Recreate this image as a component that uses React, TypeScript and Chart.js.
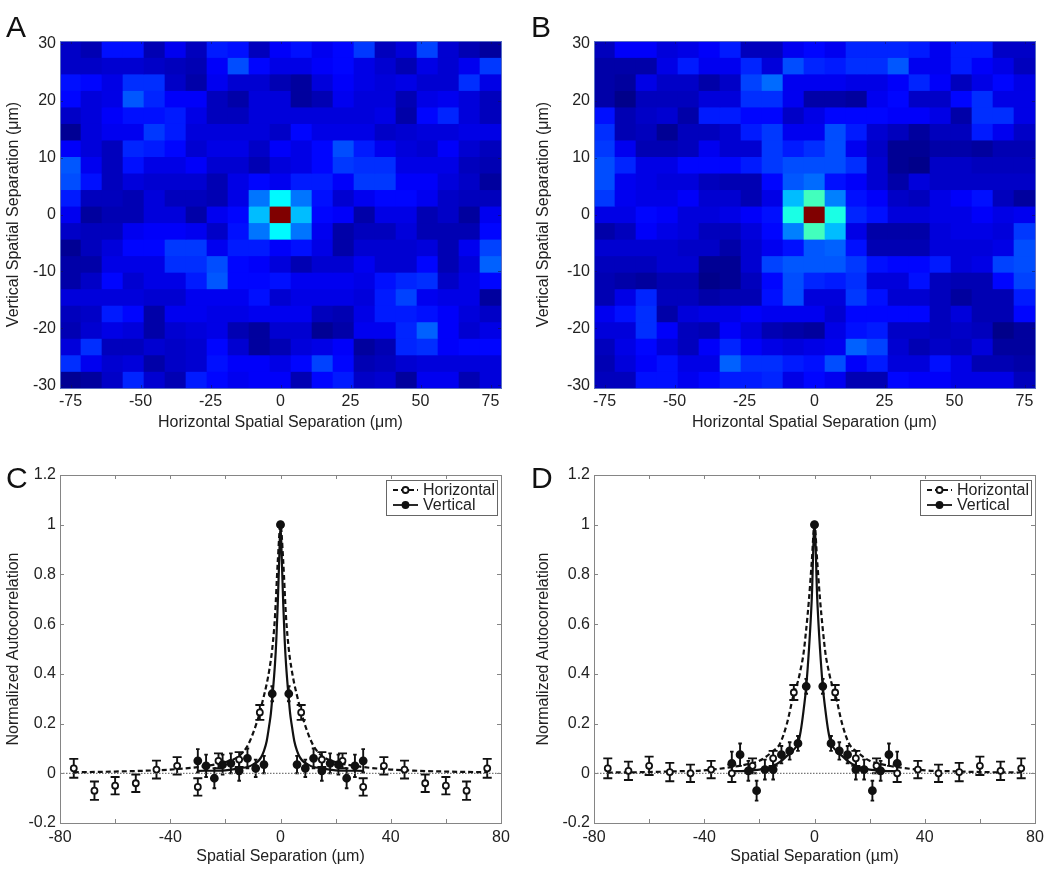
import React, { useEffect, useRef } from "react";
import { Chart, registerables } from "chart.js";

Chart.register(...registerables);

const FONT = "'Liberation Sans', Arial, sans-serif";
const TEXT = "#222222";

// ---------- heat maps (values on a 0..1 jet scale, in hundredths) ----------
const heatColumns = [-75, -67.5, -60, -52.5, -45, -37.5, -30, -22.5, -15, -7.5, 0, 7.5, 15, 22.5, 30, 37.5, 45, 52.5, 60, 67.5, 75];
const heatRows = [30, 27, 24, 21, 18, 15, 12, 9, 6, 3, 0, -3, -6, -9, -12, -15, -18, -21, -24, -27, -30];
const heatTicksX = [-75, -50, -25, 0, 25, 50, 75];
const heatTicksY = [-30, -20, -10, 0, 10, 20, 30];

const heatA = [
  [7, 5, 14, 14, 5, 11, 6, 15, 14, 6, 12, 14, 11, 13, 18, 6, 9, 19, 8, 5, 3],
  [7, 7, 8, 8, 7, 6, 5, 12, 20, 13, 10, 10, 12, 13, 10, 8, 5, 10, 8, 11, 18],
  [14, 13, 10, 17, 17, 7, 4, 11, 8, 8, 5, 3, 9, 12, 10, 9, 10, 8, 8, 17, 10],
  [13, 9, 10, 21, 16, 12, 12, 6, 4, 9, 9, 3, 5, 11, 9, 9, 5, 10, 11, 9, 6],
  [7, 9, 12, 14, 14, 15, 10, 6, 6, 9, 9, 9, 9, 9, 9, 10, 4, 13, 16, 9, 6],
  [2, 9, 11, 11, 18, 15, 9, 9, 9, 9, 7, 13, 10, 10, 10, 7, 8, 9, 9, 10, 10],
  [12, 9, 6, 16, 15, 13, 8, 10, 10, 7, 12, 10, 13, 20, 15, 11, 9, 8, 12, 8, 6],
  [21, 11, 6, 14, 10, 10, 12, 8, 8, 5, 9, 10, 13, 18, 17, 17, 10, 10, 10, 6, 5],
  [20, 14, 6, 9, 8, 8, 8, 5, 10, 13, 11, 15, 15, 12, 18, 18, 12, 12, 9, 7, 3],
  [15, 6, 6, 5, 9, 6, 6, 5, 10, 24, 37, 24, 14, 8, 11, 13, 13, 11, 7, 6, 6],
  [11, 3, 5, 5, 9, 9, 4, 11, 13, 31, 100, 31, 13, 12, 4, 10, 10, 5, 7, 3, 11],
  [7, 6, 6, 11, 12, 12, 11, 7, 14, 24, 37, 24, 11, 4, 6, 6, 9, 5, 5, 5, 13],
  [2, 6, 9, 13, 13, 18, 18, 11, 15, 15, 12, 14, 10, 4, 8, 8, 8, 9, 5, 11, 19],
  [4, 4, 10, 10, 10, 17, 17, 20, 13, 12, 9, 5, 8, 8, 11, 8, 8, 13, 5, 9, 22],
  [4, 7, 13, 8, 10, 10, 15, 21, 13, 13, 14, 11, 11, 11, 10, 14, 16, 17, 7, 10, 13],
  [9, 9, 9, 9, 8, 8, 11, 11, 11, 14, 8, 10, 10, 10, 9, 15, 19, 11, 10, 10, 3],
  [6, 7, 15, 13, 4, 11, 11, 10, 10, 11, 11, 11, 6, 5, 10, 15, 15, 14, 12, 9, 7],
  [5, 8, 10, 9, 4, 8, 9, 10, 5, 3, 8, 8, 2, 4, 11, 11, 16, 22, 12, 8, 10],
  [9, 17, 6, 6, 8, 7, 8, 13, 8, 3, 5, 9, 10, 12, 3, 5, 16, 17, 12, 13, 13],
  [17, 11, 8, 9, 4, 7, 8, 14, 12, 12, 10, 13, 19, 13, 5, 6, 8, 9, 9, 9, 9],
  [2, 3, 7, 16, 8, 5, 15, 13, 11, 12, 12, 5, 13, 15, 7, 8, 3, 11, 11, 5, 9],
];

const heatB = [
  [6, 12, 12, 9, 10, 12, 15, 6, 6, 11, 13, 11, 16, 16, 16, 15, 11, 15, 15, 7, 7],
  [4, 4, 4, 10, 15, 11, 11, 16, 9, 20, 16, 15, 17, 17, 21, 11, 11, 15, 12, 10, 6],
  [4, 3, 10, 7, 7, 4, 7, 19, 23, 11, 11, 11, 10, 10, 12, 16, 12, 6, 10, 13, 10],
  [4, 1, 6, 6, 6, 9, 9, 17, 17, 11, 4, 4, 3, 11, 13, 7, 7, 13, 17, 10, 10],
  [14, 5, 7, 8, 4, 15, 15, 13, 13, 7, 10, 13, 13, 13, 12, 12, 10, 4, 17, 17, 10],
  [17, 5, 6, 2, 6, 6, 8, 15, 18, 11, 11, 20, 15, 8, 6, 3, 6, 6, 15, 11, 7],
  [18, 11, 5, 5, 6, 11, 8, 8, 18, 15, 17, 20, 11, 7, 2, 2, 4, 4, 3, 5, 5],
  [20, 16, 10, 10, 13, 13, 13, 15, 18, 20, 20, 20, 17, 8, 2, 1, 7, 7, 6, 6, 6],
  [20, 11, 10, 9, 9, 6, 5, 5, 13, 21, 23, 14, 12, 8, 4, 9, 7, 7, 7, 7, 7],
  [18, 11, 10, 10, 12, 8, 8, 5, 10, 31, 44, 25, 14, 12, 7, 6, 10, 12, 14, 6, 3],
  [10, 10, 13, 12, 9, 9, 10, 12, 14, 40, 100, 40, 16, 14, 9, 9, 10, 10, 12, 10, 11],
  [4, 6, 12, 10, 9, 6, 6, 9, 13, 25, 44, 31, 10, 4, 4, 4, 9, 10, 10, 9, 18],
  [8, 8, 8, 8, 7, 7, 4, 8, 11, 14, 21, 22, 14, 5, 5, 5, 9, 9, 9, 10, 20],
  [6, 6, 6, 8, 8, 2, 2, 8, 19, 21, 21, 21, 18, 14, 13, 13, 15, 9, 10, 19, 20],
  [5, 4, 3, 5, 5, 1, 2, 6, 13, 20, 16, 15, 17, 9, 9, 14, 6, 5, 5, 13, 19],
  [5, 10, 16, 6, 6, 4, 5, 5, 14, 20, 9, 9, 18, 14, 8, 8, 6, 3, 5, 5, 15],
  [11, 14, 17, 4, 9, 10, 10, 12, 11, 11, 11, 8, 13, 13, 13, 13, 6, 9, 5, 5, 13],
  [9, 9, 17, 12, 6, 5, 12, 9, 5, 4, 3, 10, 14, 15, 7, 7, 6, 7, 6, 1, 3],
  [6, 10, 13, 9, 6, 12, 16, 12, 10, 9, 10, 11, 22, 19, 8, 5, 7, 6, 9, 3, 3],
  [5, 9, 12, 14, 10, 10, 22, 17, 17, 15, 14, 20, 12, 15, 9, 9, 14, 10, 5, 5, 4],
  [6, 6, 14, 14, 11, 13, 15, 15, 16, 10, 13, 11, 5, 5, 13, 12, 12, 10, 10, 10, 6],
];

// ---------- autocorrelation curves (one side; the other side mirrors it) ----------
const lineTicksX = [-80, -60, -40, -20, 0, 20, 40, 60, 80];
const lineLabelsX = [-80, -40, 0, 40, 80];
const lineTicksY = [-0.2, 0, 0.2, 0.4, 0.6, 0.8, 1, 1.2];

const horizontalX = [0, 7.5, 15, 22.5, 30, 37.5, 45, 52.5, 60, 67.5, 75];
const verticalX = [0, 3, 6, 9, 12, 15, 18, 21, 24, 27, 30];

const cHorizontal = [1, 0.245, 0.055, 0.05, -0.055, 0.03, 0.015, -0.04, -0.05, -0.07, 0.02];
const cHorizontalErr = [0, 0.03, 0.03, 0.03, 0.035, 0.035, 0.036, 0.035, 0.035, 0.037, 0.038];
const cVertical = [1, 0.32, 0.035, 0.02, 0.06, 0.01, 0.04, 0.035, -0.02, 0.03, 0.05];
const cVerticalErr = [0, 0.03, 0.035, 0.035, 0.04, 0.04, 0.04, 0.04, 0.04, 0.045, 0.047];

const dHorizontal = [1, 0.325, 0.06, 0.03, 0, 0.015, 0, 0.005, 0.03, 0.01, 0.02];
const dHorizontalErr = [0, 0.03, 0.03, 0.03, 0.035, 0.035, 0.035, 0.037, 0.037, 0.037, 0.04];
const dVertical = [1, 0.35, 0.12, 0.09, 0.075, 0.015, 0.015, -0.07, 0.01, 0.075, 0.04];
const dVerticalErr = [0, 0.03, 0.03, 0.035, 0.035, 0.04, 0.04, 0.04, 0.04, 0.045, 0.047];

const cFitHX = [0, 1, 2, 3, 4, 5, 6.5, 7.5, 10, 12, 15, 20, 25, 30, 40, 50, 60, 75];
const cFitHY = [1, 0.85, 0.63, 0.5, 0.42, 0.36, 0.29, 0.245, 0.16, 0.11, 0.07, 0.045, 0.033, 0.025, 0.015, 0.01, 0.007, 0.004];
const cFitVX = [0, 0.5, 1, 1.5, 2, 3, 3.5, 4, 5, 6, 7, 8, 10, 12, 15, 20, 30];
const cFitVY = [1, 0.85, 0.68, 0.54, 0.44, 0.3, 0.24, 0.2, 0.13, 0.09, 0.065, 0.05, 0.035, 0.025, 0.02, 0.012, 0.01];

const dFitHX = [0, 1, 2, 3, 4, 5, 6, 7.5, 10, 12.5, 15, 20, 25, 30, 40, 50, 60, 75];
const dFitHY = [1, 0.85, 0.7, 0.58, 0.48, 0.42, 0.37, 0.32, 0.2, 0.12, 0.09, 0.05, 0.035, 0.025, 0.012, 0.008, 0.005, 0.003];
const dFitVX = [0, 1, 2, 3, 4, 5, 6, 8, 10, 12, 15, 20, 25, 30];
const dFitVY = [1, 0.7, 0.5, 0.35, 0.25, 0.17, 0.12, 0.09, 0.07, 0.05, 0.03, 0.015, 0.01, 0.008];

const legendNames = ["Horizontal", "Vertical"];

// ---------- helpers ----------
const clamp = (v: number) => Math.max(0, Math.min(1, v));
function jet(v: number) {
  const r = clamp(1.5 - Math.abs(4 * v - 3));
  const g = clamp(1.5 - Math.abs(4 * v - 2));
  const b = clamp(1.5 - Math.abs(4 * v - 1));
  return `rgb(${Math.round(r * 255)},${Math.round(g * 255)},${Math.round(b * 255)})`;
}

function mirror(xs: number[], ys: number[]) {
  const pts: { x: number; y: number }[] = [];
  for (let i = xs.length - 1; i > 0; i--) pts.push({ x: -xs[i], y: ys[i] });
  xs.forEach((x, i) => pts.push({ x, y: ys[i] }));
  return pts;
}
function mirrorErr(errs: number[]) {
  return [...errs.slice(1).reverse(), ...errs];
}

function frameTicks(color: string, tickColor: string, len: number) {
  return {
    id: "frameTicks",
    afterDatasetsDraw(chart: any) {
      const { ctx, chartArea: a, scales } = chart;
      ctx.save();
      ctx.strokeStyle = tickColor;
      ctx.lineWidth = 1;
      ctx.beginPath();
      scales.x.ticks.forEach((t: any) => {
        const x = Math.round(scales.x.getPixelForValue(t.value)) + 0.5;
        ctx.moveTo(x, a.bottom);
        ctx.lineTo(x, a.bottom - len);
        ctx.moveTo(x, a.top);
        ctx.lineTo(x, a.top + len);
      });
      scales.y.ticks.forEach((t: any) => {
        const y = Math.round(scales.y.getPixelForValue(t.value)) + 0.5;
        ctx.moveTo(a.left, y);
        ctx.lineTo(a.left + len, y);
        ctx.moveTo(a.right, y);
        ctx.lineTo(a.right - len, y);
      });
      ctx.stroke();
      ctx.strokeStyle = color;
      ctx.strokeRect(Math.round(a.left) + 0.5, Math.round(a.top) + 0.5, Math.round(a.right - a.left), Math.round(a.bottom - a.top));
      ctx.restore();
    },
  };
}

const errorBars = {
  id: "errorBars",
  beforeDatasetsDraw(chart: any) {
    const { ctx, scales } = chart;
    ctx.save();
    ctx.strokeStyle = "#111111";
    ctx.lineWidth = 1.9;
    chart.data.datasets.forEach((ds: any) => {
      if (!ds.errors) return;
      ds.data.forEach((p: any, i: number) => {
        const e = ds.errors[i];
        if (!e) return;
        const x = scales.x.getPixelForValue(p.x);
        const y1 = scales.y.getPixelForValue(p.y + e);
        const y2 = scales.y.getPixelForValue(p.y - e);
        ctx.beginPath();
        ctx.moveTo(x, y1);
        ctx.lineTo(x, y2);
        ctx.moveTo(x - ds.cap, y1);
        ctx.lineTo(x + ds.cap, y1);
        ctx.moveTo(x - ds.cap, y2);
        ctx.lineTo(x + ds.cap, y2);
        ctx.stroke();
      });
    });
    ctx.restore();
  },
};

const insideLegend = {
  id: "insideLegend",
  afterDraw(chart: any) {
    const { ctx, chartArea: a } = chart;
    const left = a.right - 115;
    const top = a.top + 5;
    ctx.save();
    ctx.fillStyle = "#ffffff";
    ctx.strokeStyle = "#666666";
    ctx.lineWidth = 1;
    ctx.fillRect(left, top, 111, 35);
    ctx.strokeRect(left + 0.5, top + 0.5, 111, 35);
    legendNames.forEach((name, i) => {
      const y = top + 10 + i * 15;
      ctx.strokeStyle = "#111111";
      ctx.lineWidth = 1.8;
      ctx.setLineDash(i === 0 ? [5, 3] : []);
      ctx.beginPath();
      ctx.moveTo(left + 7, y);
      ctx.lineTo(left + 32, y);
      ctx.stroke();
      ctx.setLineDash([]);
      ctx.beginPath();
      ctx.arc(left + 19.5, y, 3, 0, Math.PI * 2);
      ctx.fillStyle = i === 0 ? "#ffffff" : "#111111";
      ctx.fill();
      ctx.stroke();
      ctx.fillStyle = TEXT;
      ctx.font = `16px ${FONT}`;
      ctx.textAlign = "left";
      ctx.textBaseline = "middle";
      ctx.fillText(name, left + 37, y + 0.5);
    });
    ctx.restore();
  },
};

const heatBackdrop = {
  id: "heatBackdrop",
  beforeDatasetsDraw(chart: any) {
    const { ctx, chartArea: a } = chart;
    ctx.save();
    ctx.fillStyle = "rgb(0,0,215)";
    ctx.fillRect(a.left, a.top, a.right - a.left, a.bottom - a.top);
    ctx.restore();
  },
};

function axisBase(title: string, ticks: number[], xAxis: boolean, size: number, pad: number, tickPad: number, show: (v: number) => boolean) {
  return {
    type: "linear",
    grid: { display: false, drawTicks: false },
    border: { display: false },
    afterBuildTicks: (s: any) => {
      s.ticks = ticks.map((value) => ({ value }));
    },
    afterFit: (s: any) => {
      if (xAxis) s.height = size;
      else s.width = size;
    },
    ticks: {
      autoSkip: false,
      maxRotation: 0,
      minRotation: 0,
      padding: tickPad,
      color: TEXT,
      font: { family: FONT, size: 16 },
      callback: (v: number) => (show(v) ? String(v) : ""),
    },
    title: {
      display: true,
      text: title,
      color: TEXT,
      font: { family: FONT, size: 16 },
      padding: { top: pad, bottom: 0 },
    },
  };
}

type PanelSpec = { left: number; top: number; width: number; height: number; axisW: number; axisH: number; padRight: number };

function heatConfig(values: number[][], s: PanelSpec) {
  const rowHalf = 61 / 21 / 2;
  const rowScale = 61 / 63;
  const datasets = heatRows.map((row, r) => ({
    data: heatColumns.map((x) => ({ x, y: [row * rowScale - rowHalf, row * rowScale + rowHalf] })),
    backgroundColor: values[r].map((v) => jet(v / 100)),
    borderWidth: 0,
    barPercentage: 1,
    categoryPercentage: 1,
    grouped: false,
  }));
  return {
    type: "bar",
    data: { datasets },
    plugins: [heatBackdrop, frameTicks("#5a6fc4", "rgba(20,20,70,0.55)", 3)],
    options: {
      responsive: false,
      animation: false,
      layout: { padding: { left: 0, top: 41, right: s.padRight, bottom: 0 } },
      plugins: { legend: { display: false }, tooltip: { enabled: false }, title: { display: false } },
      scales: {
        x: { ...axisBase("Horizontal Spatial Separation (μm)", heatTicksX, true, s.axisH, 0, 4, () => true), min: -78.75, max: 78.75, offset: false },
        y: { ...axisBase("Vertical Spatial Separation (μm)", heatTicksY, false, s.axisW, 4, 4, () => true), min: -30.5, max: 30.5 },
      },
    },
  };
}

function lineConfig(hVals: number[], hErr: number[], vVals: number[], vErr: number[], fhx: number[], fhy: number[], fvx: number[], fvy: number[], s: PanelSpec) {
  const fit = (label: string, data: any[], dash: number[]) => ({
    label,
    data,
    showLine: true,
    borderColor: "#111111",
    borderWidth: 2.2,
    borderDash: dash,
    pointRadius: 0,
    cubicInterpolationMode: "monotone",
  });
  const marks = (label: string, data: any[], errors: number[], cap: number, fill: string, radius: number) => ({
    label,
    data,
    errors,
    cap,
    showLine: false,
    pointRadius: radius,
    pointBorderWidth: 1.8,
    pointBorderColor: "#111111",
    pointBackgroundColor: fill,
  });
  // Chart.js paints the first dataset last, so the filled marks come first.
  return {
    type: "scatter",
    data: {
      datasets: [
        marks("Vertical", mirror(verticalX, vVals), mirrorErr(vErr), 1.8, "#111111", 3.5),
        marks("Horizontal", mirror(horizontalX, hVals), mirrorErr(hErr), 4.5, "#ffffff", 3),
        fit("Vertical fit", mirror(fvx, fvy), []),
        fit("Horizontal fit", mirror(fhx, fhy), [5, 3]),
        { label: "Zero", data: [{ x: -80, y: 0 }, { x: 80, y: 0 }], showLine: true, borderColor: "#777777", borderWidth: 1.3, borderDash: [1.5, 1.5], pointRadius: 0 },
      ],
    },
    plugins: [errorBars, frameTicks("#858585", "#858585", 4), insideLegend],
    options: {
      responsive: false,
      animation: false,
      layout: { padding: { left: 0, top: 41, right: s.padRight, bottom: 0 } },
      plugins: { legend: { display: false }, tooltip: { enabled: false }, title: { display: false } },
      scales: {
        x: { ...axisBase("Spatial Separation (µm)", lineTicksX, true, s.axisH, 0, 5, (v) => lineLabelsX.includes(v)), min: -80, max: 80 },
        y: { ...axisBase("Normalized Autocorrelation", lineTicksY, false, s.axisW, 4, 4, () => true), min: -0.2, max: 1.2 },
      },
    },
  };
}

const panelA: PanelSpec = { left: 0, top: 0, width: 525, height: 432, axisW: 60, axisH: 44, padRight: 24 };
const panelB: PanelSpec = { left: 530, top: 0, width: 520, height: 432, axisW: 64, axisH: 44, padRight: 15 };
const panelC: PanelSpec = { left: 0, top: 434, width: 525, height: 432, axisW: 60, axisH: 43, padRight: 24 };
const panelD: PanelSpec = { left: 530, top: 434, width: 520, height: 432, axisW: 64, axisH: 43, padRight: 15 };

function Panel({ spec, config }: { spec: PanelSpec; config: () => any }) {
  const ref = useRef<HTMLCanvasElement | null>(null);
  useEffect(() => {
    const chart = new Chart(ref.current as HTMLCanvasElement, config());
    return () => chart.destroy();
  }, []);
  return (
    <canvas
      ref={ref}
      width={spec.width}
      height={spec.height}
      style={{ position: "absolute", left: spec.left, top: spec.top, width: spec.width, height: spec.height }}
    />
  );
}

const panelLetters = [
  { text: "A", left: 6, top: 12 },
  { text: "B", left: 531, top: 12 },
  { text: "C", left: 6, top: 463 },
  { text: "D", left: 531, top: 463 },
];

export default function App() {
  return (
    <div style={{ position: "absolute", left: 0, top: 0, width: 1050, height: 875, background: "#ffffff", overflow: "hidden", filter: "blur(0.4px)" }}>
      <Panel spec={panelA} config={() => heatConfig(heatA, panelA)} />
      <Panel spec={panelB} config={() => heatConfig(heatB, panelB)} />
      <Panel spec={panelC} config={() => lineConfig(cHorizontal, cHorizontalErr, cVertical, cVerticalErr, cFitHX, cFitHY, cFitVX, cFitVY, panelC)} />
      <Panel spec={panelD} config={() => lineConfig(dHorizontal, dHorizontalErr, dVertical, dVerticalErr, dFitHX, dFitHY, dFitVX, dFitVY, panelD)} />
      {panelLetters.map((l) => (
        <div key={l.text} style={{ position: "absolute", left: l.left, top: l.top, font: `30px/30px ${FONT}`, color: "#111111" }}>
          {l.text}
        </div>
      ))}
    </div>
  );
}
